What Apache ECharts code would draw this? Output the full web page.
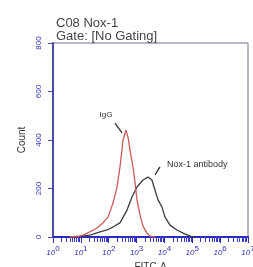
<!DOCTYPE html>
<html>
<head>
<meta charset="utf-8">
<script src="https://cdn.jsdelivr.net/npm/echarts@6/dist/echarts.min.js"></script>
<style>
  html, body { margin: 0; padding: 0; background: #fff; }
  #chart { width: 253px; height: 267px; }
</style>
</head>
<body>
<div id="chart"></div>
<script>
// FITC-A intensity (x) and count (y)
var iggX = [4, 8, 12, 21, 38, 62, 94, 143, 198, 254, 300, 326, 417, 492, 581, 741, 877, 1035, 1327, 1698, 2366, 3020, 4571];
var iggY = [0, 3, 8, 21, 37, 58, 82, 140, 206, 289, 359, 400, 441, 412, 359, 289, 227, 153, 91, 45, 16, 4, 0];

var noxX = [5, 9, 21, 49, 87, 141, 254, 453, 685, 1035, 1698, 2570, 3548, 4571, 5888, 8128, 10471, 15849, 28184, 46774, 83176, 125893];
var noxY = [0, 2, 8, 21, 29, 41, 58, 111, 165, 206, 235, 247, 235, 194, 153, 124, 82, 49, 29, 16, 4, 0];

var xExponents = ['0', '1', '2', '3', '4', '5', '6', '7'];
var yTicks = [0, 200, 400, 600, 800];

var titleText = 'C08 Nox-1\nGate: [No Gating]';

function pairs(xs, ys) {
    return xs.map(function (x, i) { return [x, ys[i]]; });
}

var chart = echarts.init(document.getElementById('chart'));

var option = {
    animation: false,
    textStyle: { fontFamily: 'Liberation Sans, Arial, sans-serif' },
    title: {
        text: titleText,
        left: 51,
        top: 12,
        textStyle: { fontSize: 13, fontWeight: 'normal', color: '#444', lineHeight: 13 }
    },
    grid: {
        left: 53,
        right: 5,
        top: 43,
        bottom: 30,
        outerBoundsMode: 'none',
        containLabel: false,
        show: true,
        borderColor: '#707090',
        borderWidth: 1
    },
    xAxis: {
        type: 'log',
        logBase: 10,
        min: 1,
        max: 1e7,
        name: 'FITC-A',
        nameLocation: 'middle',
        nameGap: 15,
        nameTextStyle: { fontSize: 10, color: '#333' },
        axisLine: { lineStyle: { color: '#2a2ac0', width: 2 } },
        axisTick: { length: 6, lineStyle: { color: '#2a2ac0' } },
        minorTick: { show: true, splitNumber: 9, length: 5, lineStyle: { color: '#3a3acc' } },
        splitLine: { show: false },
        axisLabel: {
            margin: 8,
            formatter: function (v) {
                var e = Math.round(Math.log10(v));
                return '{b|10}{s|' + xExponents[e] + '}';
            },
            rich: {
                b: { fontSize: 8, color: '#3030b4', fontStyle: 'italic', verticalAlign: 'bottom', lineHeight: 12 },
                s: { fontSize: 8, color: '#3030b4', verticalAlign: 'top', lineHeight: 12 }
            }
        }
    },
    yAxis: {
        type: 'value',
        min: 0,
        max: 800,
        interval: 200,
        name: 'Count',
        nameLocation: 'middle',
        nameGap: 25,
        nameTextStyle: { fontSize: 10, color: '#333' },
        axisLine: { show: true, lineStyle: { color: '#4a4aa0', width: 2 } },
        axisTick: { show: true, length: 5, lineStyle: { color: '#4a4aa0' } },
        splitLine: { show: false },
        axisLabel: {
            rotate: 90,
            margin: 10,
            fontSize: 8,
            color: '#3333bb',
            formatter: function (v) { return yTicks.indexOf(v) >= 0 ? String(v) : ''; }
        }
    },
    series: [
        {
            name: 'IgG',
            type: 'line',
            data: pairs(iggX, iggY),
            symbol: 'none',
            lineStyle: { color: '#cc5a5a', width: 1.3 },
            z: 3,
            markLine: {
                symbol: 'none',
                silent: true,
                lineStyle: { color: '#333', width: 1.3, type: 'solid' },
                label: { show: false },
                data: [[{ coord: [168, 470] }, { coord: [300, 429] }]]
            },
            markPoint: {
                symbol: 'circle',
                symbolSize: 0,
                silent: true,
                label: { show: true, position: 'inside', formatter: 'IgG', fontSize: 8, color: '#333' },
                data: [{ coord: [80, 505] }]
            }
        },
        {
            name: 'Nox-1 antibody',
            type: 'line',
            data: pairs(noxX, noxY),
            symbol: 'none',
            lineStyle: { color: '#3c3c3c', width: 1.3 },
            z: 2,
            markLine: {
                symbol: 'none',
                silent: true,
                lineStyle: { color: '#333', width: 1.3, type: 'solid' },
                label: { show: false },
                data: [[{ coord: [6900, 289] }, { coord: [4600, 256] }]]
            },
            markPoint: {
                symbol: 'circle',
                symbolSize: 0,
                silent: true,
                label: { show: true, position: 'inside', formatter: 'Nox-1 antibody', fontSize: 9, color: '#333' },
                data: [{ coord: [150000, 300] }]
            }
        }
    ]
};

chart.setOption(option);
</script>
</body>
</html>
